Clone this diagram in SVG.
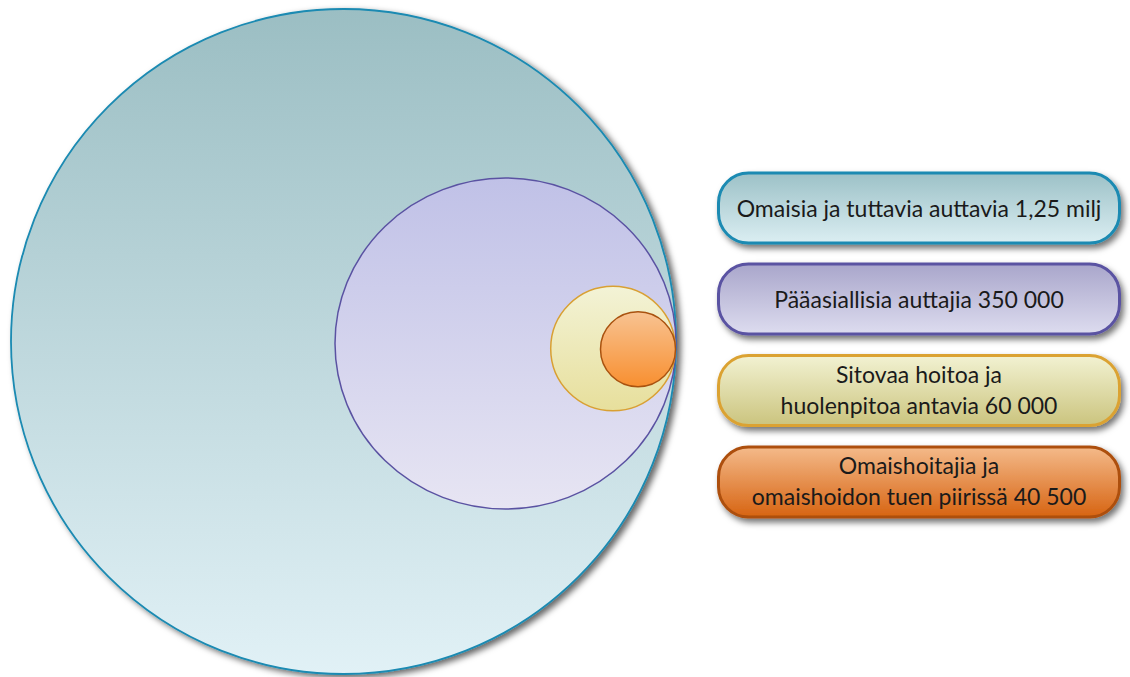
<svg xmlns="http://www.w3.org/2000/svg" width="1130" height="677" viewBox="0 0 1130 677">
<defs>
<linearGradient id="gBig" x1="0" y1="0" x2="0" y2="1"><stop offset="0" stop-color="#9bbec3"/><stop offset="1" stop-color="#e1f1f6"/></linearGradient>
<linearGradient id="gMid" x1="0" y1="0" x2="0" y2="1"><stop offset="0" stop-color="#c0c1e7"/><stop offset="1" stop-color="#e7e5f3"/></linearGradient>
<linearGradient id="gYel" x1="0" y1="0" x2="0" y2="1"><stop offset="0" stop-color="#f3f3d6"/><stop offset="1" stop-color="#e7df9c"/></linearGradient>
<linearGradient id="gOra" x1="0" y1="0" x2="0" y2="1"><stop offset="0" stop-color="#f8c392"/><stop offset="1" stop-color="#f88f30"/></linearGradient>
<linearGradient id="b1" x1="0" y1="0" x2="0" y2="1"><stop offset="0" stop-color="#9cc1c7"/><stop offset="1" stop-color="#dbeef2"/></linearGradient>
<linearGradient id="b2" x1="0" y1="0" x2="0" y2="1"><stop offset="0" stop-color="#a9a6cb"/><stop offset="1" stop-color="#dddcef"/></linearGradient>
<linearGradient id="b3" x1="0" y1="0" x2="0" y2="1"><stop offset="0" stop-color="#f2f2d2"/><stop offset="1" stop-color="#cbc47e"/></linearGradient>
<linearGradient id="b4" x1="0" y1="0" x2="0" y2="1"><stop offset="0" stop-color="#f4ba8a"/><stop offset="1" stop-color="#d76412"/></linearGradient>
<filter id="sh" x="-10%" y="-10%" width="125%" height="130%"><feDropShadow dx="3" dy="4" stdDeviation="3" flood-color="#000" flood-opacity="0.55"/></filter>
<filter id="shb" x="-10%" y="-10%" width="125%" height="125%"><feDropShadow dx="4" dy="3" stdDeviation="3" flood-color="#000" flood-opacity="0.6"/></filter>
</defs>
<style>
.lbl{font-family:Lato,"Liberation Sans",sans-serif;font-size:23px;fill:#1a1a1a;text-anchor:middle}
.box{stroke-width:3}
</style>
<rect width="1130" height="677" fill="#ffffff"/>
<g id="circle-omaisia">
<ellipse cx="343.5" cy="341.5" rx="332.5" ry="332.5" fill="url(#gBig)" stroke="#1a8ab2" stroke-width="1.8" filter="url(#shb)"/>
</g>
<g id="circle-paaasialliset">
<ellipse cx="505.5" cy="343.5" rx="170.5" ry="165.5" fill="url(#gMid)" stroke="#5a52a2" stroke-width="1.5"/>
</g>
<g id="circle-sitovaa">
<circle cx="613" cy="348.5" r="62.3" fill="url(#gYel)" stroke="#d9a033" stroke-width="1.5"/>
</g>
<g id="circle-omaishoitajat">
<circle cx="638" cy="349.2" r="37.5" fill="url(#gOra)" stroke="#a9520f" stroke-width="1.5"/>
</g>
<g id="box-1">
<rect class="box" x="718.5" y="173" width="401" height="70" rx="30" fill="url(#b1)" stroke="#1a8ab2" filter="url(#sh)"/>
<text class="lbl" x="919" y="216.5">Omaisia ja tuttavia auttavia 1,25 milj</text>
</g>
<g id="box-2">
<rect class="box" x="718.5" y="264" width="401" height="70" rx="30" fill="url(#b2)" stroke="#5a52a2" filter="url(#sh)"/>
<text class="lbl" x="919" y="307.5">Pääasiallisia auttajia 350 000</text>
</g>
<g id="box-3">
<rect class="box" x="718.5" y="355.5" width="401" height="70" rx="30" fill="url(#b3)" stroke="#dba232" filter="url(#sh)"/>
<text class="lbl" x="919" y="383">Sitovaa hoitoa ja</text>
<text class="lbl" x="919" y="414">huolenpitoa antavia 60 000</text>
</g>
<g id="box-4">
<rect class="box" x="718.5" y="447" width="401" height="70" rx="30" fill="url(#b4)" stroke="#ad4f0f" filter="url(#sh)"/>
<text class="lbl" x="919" y="474">Omaishoitajia ja</text>
<text class="lbl" x="919" y="505">omaishoidon tuen piirissä 40 500</text>
</g>
</svg>
